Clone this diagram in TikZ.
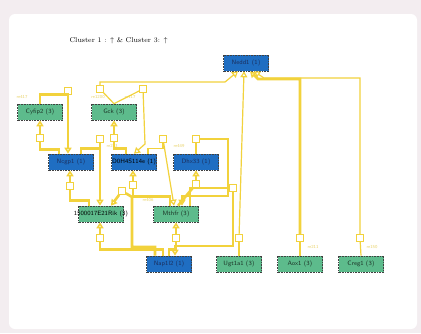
\documentclass[tikz,border=0pt]{standalone}
\usepackage{tikz}
\usepackage{xcolor}
\usetikzlibrary{arrows.meta, positioning, calc}

\definecolor{linkyellow}{HTML}{F2D23C}
\definecolor{labelyellow}{HTML}{E9D36A}
\definecolor{nodeblue}{HTML}{1F6EC2}
\definecolor{nodegreen}{HTML}{5DBB8C}
\definecolor{navytext}{HTML}{1B2F5E}
\definecolor{greentext}{HTML}{1C3326}
\definecolor{framegray}{HTML}{F3EDF0}

\begin{document}
\begin{tikzpicture}[x=1pt, y=-1pt,
    gene/.style={rectangle, draw=black!75, densely dotted, line width=0.6pt, minimum width=45pt, minimum height=16pt, inner sep=1pt, font=\fontsize{6.3}{7}\selectfont\sffamily},
    prot/.style={gene, fill=nodeblue, text=navytext},
    rnanode/.style={gene, fill=nodegreen, text=greentext},
    rxn/.style={rectangle, draw=linkyellow, fill=white, line width=1.2pt, minimum size=6.5pt, inner sep=0pt},
    link/.style={draw=linkyellow, line width=2.6pt},
    thinlink/.style={draw=linkyellow, line width=1.2pt},
    into/.style={-{Triangle[open, length=6pt, width=7pt]}},
    relabel/.style={font=\fontsize{4.5}{5}\selectfont\sffamily, text=labelyellow}
]
    \useasboundingbox (0,0) rectangle (421,333);
    \fill[framegray] (0,0) rectangle (421,333);
    \fill[white, rounded corners=6pt] (9,14) rectangle (417,329);

    \node[font=\fontsize{7}{8}\selectfont, anchor=west] (title) at (66,41) {Cluster 1 : $\uparrow$ \& Cluster 3: $\uparrow$};

    % Genes
    \node[prot] (nedd) at (246,63) {Nedd1 (1)};
    \node[rnanode] (cyfip) at (40,112) {Cyfip2 (3)};
    \node[rnanode] (gck) at (114,112) {Gck (3)};
    \node[prot] (nrip) at (71,162) {Ncgp1 (1)};
    \node[prot, label={[font=\fontsize{6.3}{7}\selectfont\sffamily, text=black]center:D0H4S114e (1)}] (dzero) at (134,162) {};
    \node[prot] (dhx) at (196,162) {Dhx33 (1)};
    \node[rnanode, label={[font=\fontsize{6.3}{7}\selectfont\sffamily, text=black]center:1500017E21Rik (3)}] (rik) at (101,214) {};
    \node[rnanode] (mthfr) at (176,214) {Mthfr (3)};
    \node[prot] (nap) at (169,264) {Nap1l2 (1)};
    \node[rnanode] (ugt) at (239,264) {Ugt1a1 (3)};
    \node[rnanode] (aox) at (300,264) {Aox1 (3)};
    \node[rnanode] (creg) at (361,264) {Creg1 (3)};

    % Reactions
    \node[rxn] (r417) at (68,91) {};
    \node[rxn] (r1200) at (100,89) {};
    \node[rxn] (r117) at (143,89) {};
    \node[rxn] (rcy) at (40,138) {};
    \node[rxn] (rgc) at (114,138) {};
    \node[rxn] (rnr) at (100,139) {};
    \node[rxn] (rdz) at (163,139) {};
    \node[rxn] (r449) at (196,139) {};
    \node[rxn] (rrk) at (70,186) {};
    \node[rxn] (rna) at (122,191) {};
    \node[rxn] (rmd) at (133,185) {};
    \node[rxn] (rdh) at (196,184) {};
    \node[rxn] (rmn) at (233,188) {};
    \node[rxn] (rnk) at (100,238) {};
    \node[rxn] (rnm) at (176,238) {};
    \node[rxn] (rug) at (239,238) {};
    \node[rxn] (r211) at (300,238) {};
    \node[rxn] (r150) at (360,238) {};

    \node[relabel] (l417) at (22,97) {re417};
    \node[relabel] (l1200) at (98,97) {re1200};
    \node[relabel] (l117) at (130,97) {re117};
    \node[relabel] (l213) at (112,146) {re213};
    \node[relabel] (l449) at (179,146) {re449};
    \node[relabel] (l406) at (148,200) {re406};
    \node[relabel] (l211) at (313,247) {re211};
    \node[relabel] (l150) at (372,247) {re150};

    % Top row
    \draw[link] (cyfip.north) -- ++(0,-9) -| (r417);
    \draw[link, into] (r417) -- (r417 |- nrip.north);
    \draw[link] ([xshift=-12pt]nrip.north) -- ++(0,-4) -| (rcy);
    \draw[link, into] (rcy) -- (cyfip.south);
    \draw[thinlink] (gck.north) -- (r1200);
    \draw[thinlink, into] (r1200) |- (225,82) -- ([xshift=-8pt]nedd.south);
    \draw[thinlink] (gck.north) -- (r117);
    \draw[thinlink, into] (r117) -- (145,144) -- (dzero.north);
    \draw[link] ([xshift=-8pt]dzero.north) -- ++(0,-5) -| (rgc);
    \draw[link, into] (rgc) -- (gck.south);

    % Middle row
    \draw[link] ([xshift=10pt]nrip.north) -- ++(0,-5) -| (rnr);
    \draw[link, into] (rnr) -- (rnr |- rik.north);
    \draw[link] ([xshift=-12pt]rik.north) -- ++(0,-5) -| (rrk);
    \draw[link, into] (rrk) -- (rrk |- nrip.south);
    \draw[thinlink] ([xshift=14pt]dzero.north) -- ++(0,-5) -| (rdz);
    \draw[thinlink, into] (rdz) -- ([xshift=-2pt]mthfr.north);
    \draw[link] (dhx.north) -- (r449);
    \draw[link, into] (r449) -| (228,196) -| ([xshift=6pt]mthfr.north);
    \draw[link] ([xshift=-6pt]mthfr.north) -- ++(0,-9) -| (rmd);
    \draw[link, into] (rmd) -- (rmd |- dzero.south);
    \draw[link] ([xshift=2pt]mthfr.north) -- (rdh);
    \draw[link, into] (rdh) -- (rdh |- dhx.south);

    % Bottom row
    \draw[link] ([xshift=-14pt]nap.north) |- (132,247) -- (132,197) -- (rna);
    \draw[link, into] (rna) -- ([xshift=10pt]rik.north);
    \draw[link] ([xshift=-6pt]nap.north) -- ++(0,-6) -| (rnk);
    \draw[link, into] (rnk) -- (rnk |- rik.south);
    \draw[link] (nap.north) -- ++(0,-6) -| (rnm);
    \draw[link, into] (rnm) -- (rnm |- mthfr.south);
    \draw[link] ([xshift=14pt]mthfr.north) |- (rmn);
    \draw[link, into] (rmn) |- (200,246) -| ([xshift=6pt]nap.north);

    % Into Nedd1
    \draw[thinlink] (ugt.north) -- (rug);
    \draw[thinlink, into] (rug) -- ([xshift=-2pt]nedd.south);
    \draw[link] (aox.north) -- (r211);
    \draw[link, into] (r211) |- (258,79) -- ([xshift=4pt]nedd.south);
    \draw[thinlink] (creg.north) -- (r150);
    \draw[thinlink, into] (r150) |- (264,78) -- ([xshift=8pt]nedd.south);
\end{tikzpicture}
\end{document}
